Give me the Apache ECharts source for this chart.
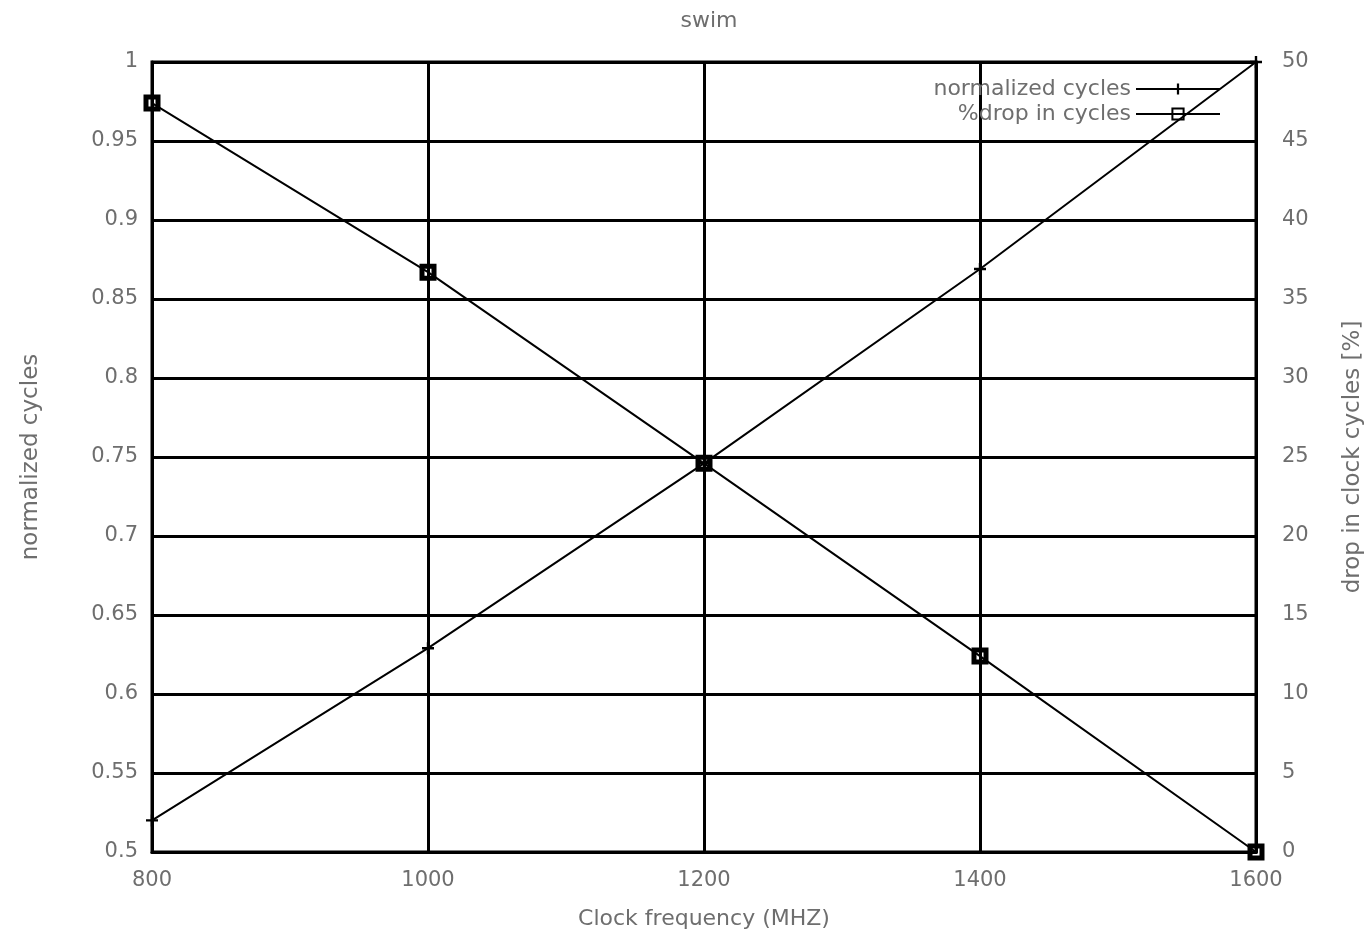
<!DOCTYPE html>
<html>
<head>
<meta charset="utf-8">
<script src="https://cdn.jsdelivr.net/npm/echarts@6/dist/echarts.min.js"></script>
<style>
  html, body { margin: 0; padding: 0; background: #fff; }
  #chart { width: 1366px; height: 933px; }
</style>
</head>
<body>
<div id="chart"></div>
<script>
// Clock frequencies (MHz) and the two measured series
const frequencies = [800, 1000, 1200, 1400, 1600];
const normalizedCycles = [0.52, 0.629, 0.746, 0.869, 1.0];
const dropInCycles = [47.4, 36.7, 24.6, 12.4, 0];

const seriesNames = ['normalized cycles', '%drop in cycles'];
const titleText = 'swim';
const xName = 'Clock frequency (MHZ)';
const leftName = 'normalized cycles';
const rightName = 'drop in clock cycles [%]';

const textColor = '#6e6e6e';
const fontFamily = '"DejaVu Sans", sans-serif';
const fontSize = 21;
const nameSize = 22;
// small "+" glyph used as the point marker of the first series
const plusPath = 'path://M4,0H6V4H10V6H6V10H4V6H0V4H4Z';

const chart = echarts.init(document.getElementById('chart'));

chart.setOption({
  animation: false,
  backgroundColor: '#fff',
  title: {
    text: titleText,
    left: 704,
    textAlign: 'center',
    top: 5,
    textStyle: { color: textColor, fontSize: nameSize, fontWeight: 'normal', fontFamily }
  },
  legend: {
    orient: 'vertical',
    right: 140,
    top: 73,
    align: 'right',
    itemWidth: 84,
    itemHeight: 14,
    itemGap: 3,
    textStyle: { color: textColor, fontSize: 22, fontFamily },
    data: seriesNames
  },
  grid: {
    left: 152,
    right: 110,
    top: 62,
    bottom: 81,
    outerBoundsMode: 'none',
    containLabel: false,
    show: true,
    borderColor: '#000',
    borderWidth: 3,
    backgroundColor: 'transparent'
  },
  xAxis: {
    type: 'value',
    min: 800,
    max: 1600,
    interval: 200,
    name: xName,
    nameLocation: 'middle',
    nameGap: 56,
    nameTextStyle: { color: textColor, fontSize: nameSize, fontFamily },
    axisLine: { show: true, lineStyle: { color: '#000', width: 3 } },
    axisTick: { show: false },
    axisLabel: {
      color: textColor, fontSize, fontFamily, margin: 18,
      formatter: v => String(v)
    },
    splitLine: { show: true, lineStyle: { color: '#000', width: 3 } }
  },
  yAxis: [
    {
      type: 'value',
      min: 0.5,
      max: 1,
      interval: 0.05,
      position: 'left',
      name: leftName,
      nameLocation: 'middle',
      nameRotate: 90,
      nameGap: 109,
      nameTextStyle: { color: textColor, fontSize: 23, fontFamily },
      axisLine: { show: true, lineStyle: { color: '#000', width: 3 } },
      axisTick: { show: false },
      axisLabel: {
        color: textColor, fontSize, fontFamily, margin: 14,
        formatter: v => String(Math.round(v * 100) / 100)
      },
      splitLine: { show: true, lineStyle: { color: '#000', width: 3 } }
    },
    {
      type: 'value',
      min: 0,
      max: 50,
      interval: 5,
      position: 'right',
      name: rightName,
      nameLocation: 'middle',
      nameRotate: 90,
      nameGap: 86,
      nameTextStyle: { color: textColor, fontSize: 23, fontFamily },
      axisLine: { show: true, lineStyle: { color: '#000', width: 3 } },
      axisTick: { show: false },
      axisLabel: { color: textColor, fontSize, fontFamily, margin: 26 },
      splitLine: { show: false }
    }
  ],
  series: [
    {
      name: seriesNames[0],
      type: 'line',
      yAxisIndex: 0,
      data: frequencies.map((f, i) => [f, normalizedCycles[i]]),
      symbol: plusPath,
      symbolSize: 12,
      showAllSymbol: true,
      lineStyle: { color: '#000', width: 2 },
      itemStyle: { color: '#000', borderWidth: 0 },
      z: 5
    },
    {
      name: seriesNames[1],
      type: 'line',
      yAxisIndex: 1,
      data: frequencies.map((f, i) => [f, dropInCycles[i]]),
      symbol: 'rect',
      symbolSize: 12,
      showAllSymbol: true,
      lineStyle: { color: '#000', width: 2 },
      itemStyle: { color: 'transparent', borderColor: '#000', borderWidth: 5 },
      z: 6
    }
  ]
});
</script>
</body>
</html>
